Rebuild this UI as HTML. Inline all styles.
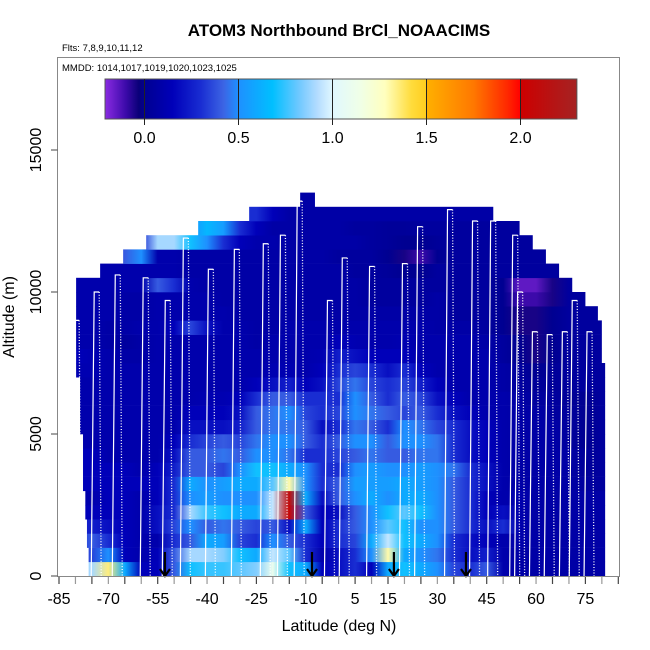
<!DOCTYPE html>
<html><head><meta charset="utf-8"><style>
body{margin:0;background:#fff;}
svg{display:block;font-family:"Liberation Sans",sans-serif;}
</style></head><body>
<svg id="chart" width="650" height="650" viewBox="0 0 650 650">
<defs id="defs"></defs>
<text x="339" y="36" text-anchor="middle" font-size="17" font-weight="bold">ATOM3 Northbound BrCl_NOAACIMS</text>
<text x="62" y="51" font-size="9.5">Flts: 7,8,9,10,11,12</text>
<g id="heat"></g>
<g id="tracks"></g>
<g id="arrows"></g>
<rect x="57.5" y="57.5" width="562" height="519" fill="none" stroke="#888" stroke-width="1"/>
<text x="62" y="71" font-size="9.5">MMDD: 1014,1017,1019,1020,1023,1025</text>
<g id="cbar"></g>
<g id="xaxis"></g>
<g id="yaxis"></g>
<text x="339" y="631" text-anchor="middle" font-size="16">Latitude (deg N)</text>
<text transform="translate(14,317) rotate(-90)" text-anchor="middle" font-size="16">Altitude (m)</text>
</svg>
<script>
const latNodes=[-80,-75,-70,-65,-60,-55,-50,-45,-40,-35,-30,-25,-20,-15,-10,-5,0,5,10,15,20,25,30,35,40,45,50,55,60,65,70,75,80];
const rowAltStart=[0,500,1000,1500,2000,2500,3000,3500,4000,4500,5000,5500,6000,6500,7000,7500,8000,8500,9000,9500,10000,10500,11000,11500,12000,12500,13000];
const rowLeft=[-76,-76,-76.5,-76.5,-77,-77,-77.7,-77.7,-77.7,-77.7,-78.6,-78.6,-78.6,-78.6,-79.8,-79.8,-79.8,-79.8,-79.8,-79.8,-79.8,-72.5,-65.5,-58.5,-42.7,-27.2,-11.7];
const rowRight=[81,81,81,81,81,81,81,81,81,81,81,81,81,81,81,80,80,80,78.8,75,71,67,63,59,55,47,-7.2];
const v0=[0.9,0.9,1.35,0.6,0.15,0.15,0.4,0.7,0.75,0.75,0.8,0.85,1.1,0.7,0.6,0.15,0.2,0.3,0.15,0.6,0.7,0.6,0.5,0.35,0.3,0.4,0.1,0.08,0.08,0.08,0.08,0.08,0.08];
const v1=[0.4,0.35,0.5,0.15,0.1,0.15,0.4,0.9,0.9,0.85,0.7,0.6,0.95,0.8,0.3,0.1,0.2,0.3,0.5,1.3,0.6,0.5,0.45,0.3,0.2,0.25,0.1,0.08,0.08,0.08,0.08,0.08,0.08];
const v2=[0.3,0.4,0.3,0.15,0.1,0.1,0.3,0.4,0.6,0.55,0.35,0.3,0.5,0.4,0.3,0.15,0.3,0.35,0.6,0.95,0.7,0.6,0.5,0.3,0.2,0.15,0.1,0.1,0.08,0.08,0.08,0.08,0.08];
const v3=[0.25,0.25,0.2,0.15,0.1,0.2,0.35,0.5,0.4,0.45,0.4,0.35,0.4,0.2,0.6,0.15,0.3,0.4,0.5,0.8,0.7,0.5,0.5,0.4,0.3,0.2,0.3,0.1,0.08,0.08,0.08,0.08,0.08];
const v4=[0.15,0.15,0.15,0.15,0.1,0.2,0.3,0.9,0.75,0.7,0.6,0.6,0.95,2.05,0.4,0.15,0.2,0.4,0.5,0.7,0.8,0.7,0.5,0.4,0.3,0.15,0.2,0.1,0.08,0.08,0.08,0.08,0.08];
const v5=[0.1,0.1,0.15,0.15,0.1,0.15,0.3,0.5,0.55,0.5,0.5,0.5,0.95,2.1,0.6,0.2,0.4,0.5,0.6,0.5,0.6,0.6,0.5,0.4,0.3,0.15,0.1,0.1,0.08,0.08,0.08,0.08,0.08];
const v6=[0.15,0.15,0.15,0.15,0.15,0.15,0.3,0.6,0.5,0.55,0.6,0.6,0.8,1.3,0.5,0.3,0.4,0.55,0.55,0.55,0.6,0.55,0.5,0.4,0.3,0.2,0.1,0.08,0.08,0.08,0.08,0.05,0.05];
const v7=[0.15,0.15,0.15,0.15,0.1,0.15,0.25,0.4,0.4,0.35,0.5,0.7,0.7,0.6,0.5,0.3,0.3,0.5,0.55,0.5,0.5,0.55,0.5,0.45,0.3,0.2,0.1,0.08,0.08,0.08,0.08,0.03,0.05];
const v8=[0.15,0.15,0.1,0.1,0.1,0.1,0.2,0.4,0.4,0.45,0.4,0.5,0.5,0.45,0.3,0.3,0.35,0.4,0.45,0.4,0.4,0.45,0.45,0.3,0.2,0.15,0.1,0.08,0.08,0.08,0.08,0.03,0.05];
const v9=[0.1,0.1,0.1,0.1,0.1,0.1,0.15,0.3,0.35,0.4,0.35,0.45,0.5,0.5,0.4,0.3,0.4,0.5,0.5,0.4,0.5,0.5,0.45,0.3,0.2,0.15,0.1,0.08,0.08,0.08,0.05,0.0,0.05];
const v10=[0.1,0.1,0.1,0.1,0.1,0.1,0.1,0.2,0.2,0.2,0.25,0.4,0.45,0.45,0.4,0.2,0.3,0.45,0.4,0.3,0.5,0.45,0.35,0.3,0.2,0.15,0.1,0.08,0.08,0.08,0.05,0.0,0.05];
const v11=[0.1,0.1,0.1,0.1,0.1,0.1,0.1,0.15,0.15,0.15,0.2,0.4,0.45,0.5,0.35,0.3,0.35,0.5,0.45,0.4,0.35,0.4,0.3,0.2,0.15,0.1,0.1,0.08,0.08,0.05,0.05,0.0,0.05];
const v12=[0.1,0.1,0.1,0.1,0.1,0.1,0.1,0.1,0.12,0.12,0.15,0.3,0.4,0.4,0.3,0.3,0.3,0.5,0.4,0.3,0.4,0.35,0.2,0.15,0.1,0.1,0.1,0.08,0.05,0.05,0.03,0.0,0.05];
const v13=[0.1,0.1,0.1,0.1,0.1,0.1,0.1,0.1,0.1,0.1,0.1,0.15,0.2,0.25,0.15,0.2,0.35,0.45,0.35,0.3,0.35,0.25,0.15,0.1,0.1,0.1,0.08,0.05,0.03,0.03,0.05,0.05,0.05];
const v14=[0.12,0.12,0.1,0.1,0.1,0.1,0.1,0.1,0.1,0.1,0.1,0.1,0.12,0.12,0.1,0.15,0.3,0.35,0.3,0.2,0.3,0.15,0.1,0.1,0.1,0.1,0.08,0.05,0.0,0.03,0.05,0.05,0.05];
const v15=[0.15,0.12,0.1,0.08,0.08,0.1,0.1,0.1,0.1,0.1,0.1,0.1,0.1,0.1,0.1,0.12,0.25,0.2,0.15,0.15,0.15,0.1,0.1,0.1,0.1,0.1,0.05,0.0,-0.05,0.0,0.05,0.05,0.05];
const v16=[0.1,0.1,0.08,0.05,0.08,0.1,0.1,0.1,0.1,0.1,0.1,0.08,0.1,0.1,0.1,0.1,0.15,0.12,0.1,0.1,0.12,0.1,0.1,0.1,0.1,0.08,0.05,0.0,-0.05,0.0,0.05,0.05,0.05];
const v17=[0.1,0.1,0.08,0.08,0.1,0.1,0.15,0.35,0.2,0.1,0.1,0.08,0.08,0.1,0.1,0.1,0.1,0.1,0.1,0.1,0.1,0.1,0.08,0.08,0.08,0.05,0.0,-0.05,-0.05,0.0,0.05,0.05,0.05];
const v18=[0.1,0.1,0.1,0.08,0.08,0.1,0.1,0.1,0.1,0.1,0.08,0.08,0.08,0.08,0.08,0.08,0.08,0.08,0.08,0.08,0.08,0.08,0.08,0.05,0.05,0.05,0.0,-0.05,-0.05,0.0,0.05,0.05,0.05];
const v19=[0.1,0.1,0.1,0.08,0.08,0.1,0.1,0.1,0.1,0.08,0.08,0.08,0.08,0.08,0.08,0.08,0.08,0.08,0.05,0.05,0.05,0.05,0.08,0.05,0.05,0.05,0.0,-0.1,-0.1,-0.05,0.05,0.05,0.05];
const v20=[0.1,0.1,0.1,0.1,0.1,0.4,0.3,0.1,0.08,0.08,0.08,0.08,0.08,0.08,0.08,0.08,0.08,0.08,0.05,0.05,0.05,0.05,0.05,0.05,0.05,0.05,0.0,-0.15,-0.15,-0.05,0.05,0.05,0.05];
const v21=[0.1,0.1,0.1,0.1,0.1,0.1,0.1,0.08,0.08,0.08,0.08,0.08,0.08,0.08,0.08,0.08,0.08,0.05,0.05,0.03,0.0,0.0,0.05,0.05,0.05,0.05,0.05,0.05,0.05,0.05,0.05,0.05,0.05];
const v22=[0.1,0.1,0.2,0.4,0.5,0.1,0.1,0.08,0.08,0.08,0.08,0.08,0.08,0.08,0.08,0.08,0.05,0.05,0.05,0.0,-0.05,-0.1,0.0,0.05,0.05,0.05,0.05,0.05,0.05,0.05,0.05,0.05,0.05];
const v23=[0.1,0.1,0.1,0.1,0.3,0.9,0.9,0.7,0.5,0.3,0.15,0.1,0.1,0.08,0.08,0.08,0.08,0.08,0.05,0.03,0.0,0.0,0.03,0.05,0.05,0.05,0.05,0.05,0.05,0.05,0.05,0.05,0.05];
const v24=[0.1,0.1,0.1,0.1,0.1,0.1,0.1,0.5,0.65,0.55,0.3,0.15,0.08,0.08,0.08,0.08,0.08,0.05,0.05,0.03,0.03,0.05,0.05,0.05,0.05,0.05,0.05,0.05,0.05,0.05,0.05,0.05,0.05];
const v25=[0.1,0.1,0.1,0.1,0.1,0.1,0.1,0.1,0.1,0.1,0.3,0.3,0.15,0.08,0.08,0.08,0.08,0.08,0.08,0.08,0.08,0.08,0.08,0.08,0.08,0.08,0.08,0.08,0.08,0.08,0.08,0.08,0.08];
const v26=[0.1,0.1,0.1,0.1,0.1,0.1,0.1,0.1,0.1,0.1,0.1,0.1,0.1,0.08,0.08,0.08,0.08,0.08,0.08,0.08,0.08,0.08,0.08,0.08,0.08,0.08,0.08,0.08,0.08,0.08,0.08,0.08,0.08];
const rowValues=[v0,v1,v2,v3,v4,v5,v6,v7,v8,v9,v10,v11,v12,v13,v14,v15,v16,v17,v18,v19,v20,v21,v22,v23,v24,v25,v26];
const profileLats=[-80.4,-74.3,-67.9,-59.4,-52.7,-47.2,-39.6,-31.7,-22.9,-17.7,-12.6,-3.4,1.1,9.4,19.4,24,33.1,40.7,46.2,52.9,54.4,58.9,63.4,68,71,75.5];
const profileTops=[9000,10000,10600,10500,9700,11900,10800,11500,11700,12000,13200,9700,11200,10900,11000,12300,12900,12500,12500,12000,10000,8600,8500,8600,9700,8600];
const arrowLats=[-52.8,-8.1,16.8,38.7];
const xTicks=[-85,-80,-75,-70,-65,-60,-55,-50,-45,-40,-35,-30,-25,-20,-15,-10,-5,0,5,10,15,20,25,30,35,40,45,50,55,60,65,70,75,80,85];
const xLabels=[-85,-70,-55,-40,-25,-10,5,15,30,45,60,75];
const yTicks=[0,5000,10000,15000];
const cbarTicks=[0.0,0.5,1.0,1.5,2.0];

const NS="http://www.w3.org/2000/svg";
function X(lat){return 59+(lat+85)*3.29;}
function Y(alt){return 576-alt*0.0284;}
function CB(v){return 144.5+v*188;}
const cstops=[[-0.21,[138,43,226]],[-0.1,[60,10,170]],[-0.03,[10,0,120]],[0.0,[0,0,145]],[0.15,[0,0,185]],[0.3,[25,45,210]],[0.42,[60,100,228]],[0.5,[30,144,255]],[0.68,[0,191,255]],[0.82,[110,200,255]],[0.92,[180,220,255]],[1.0,[224,248,255]],[1.15,[240,255,230]],[1.28,[255,255,190]],[1.42,[255,220,60]],[1.4999,[255,205,30]],[1.5,[255,176,0]],[1.75,[255,120,0]],[1.93,[255,40,0]],[1.9999,[255,0,0]],[2.0,[205,0,0]],[2.3,[165,35,35]]];
function col(v){
  if(v<=cstops[0][0])return rgb(cstops[0][1]);
  for(let i=1;i<cstops.length;i++){
    if(v<=cstops[i][0]){const a=cstops[i-1],b=cstops[i];const t=(v-a[0])/(b[0]-a[0]);
      return rgb(a[1].map((c,k)=>c+(b[1][k]-c)*t));}
  }
  return rgb(cstops[cstops.length-1][1]);
}
function rgb(a){return "rgb("+a.map(c=>Math.round(c)).join(",")+")";}
function mk(tag,attrs,parent){const e=document.createElementNS(NS,tag);for(const k in attrs)e.setAttribute(k,attrs[k]);parent.appendChild(e);return e;}

const defs=document.getElementById('defs');
const heat=document.getElementById('heat');
rowValues.forEach((vals,r)=>{
  const g=mk('linearGradient',{id:'rg'+r,gradientUnits:'userSpaceOnUse',x1:X(latNodes[0]),x2:X(latNodes[latNodes.length-1]),y1:0,y2:0},defs);
  vals.forEach((v,i)=>{mk('stop',{offset:(i/(latNodes.length-1)).toFixed(4),'stop-color':col(v)},g);});
  const x0=X(rowLeft[r]),x1=X(rowRight[r]);
  const yTop=Y(rowAltStart[r]+500),yBot=Y(rowAltStart[r]);
  const rc=mk('rect',{x:x0,y:yTop,width:x1-x0,height:yBot-yTop+0.3,fill:'url(#rg'+r+')'},heat);
  
  
});

const tracks=document.getElementById('tracks');
profileLats.forEach((lat,i)=>{
  const x=X(lat),yt=Y(profileTops[i]);
  const p=mk('polyline',{points:(x-3)+","+Y(0)+" "+x+","+yt+" "+(x+5)+","+yt,fill:'none',stroke:'#fff','stroke-width':1.2},tracks);
  
  
  const d=mk('line',{x1:x+5,y1:yt,x2:x+7,y2:Y(0),stroke:'#fff','stroke-width':1.3,'stroke-dasharray':'1 1.8'},tracks);
  
  
});

const arrows=document.getElementById('arrows');
arrowLats.forEach(lat=>{
  const x=X(lat);
  const a=mk('path',{d:"M"+x+",552 L"+x+",576 M"+(x-5)+",569 L"+x+",576 L"+(x+5)+",569",stroke:'#000','stroke-width':2.2,fill:'none'},arrows);
  
  
});

const cbar=document.getElementById('cbar');
const cg=mk('linearGradient',{id:'cbg',gradientUnits:'userSpaceOnUse',x1:CB(-0.21),x2:CB(2.3),y1:0,y2:0},defs);
for(let i=0;i<cstops.length;i++){mk('stop',{offset:((cstops[i][0]+0.21)/2.51).toFixed(4),'stop-color':rgb(cstops[i][1])},cg);}
const cr=mk('rect',{x:CB(-0.21),y:79,width:CB(2.3)-CB(-0.21),height:40,fill:'url(#cbg)',stroke:'#555','stroke-width':1},cbar);


cbarTicks.forEach(v=>{
  const l=mk('line',{x1:CB(v),x2:CB(v),y1:79,y2:125,stroke:'#222','stroke-width':1},cbar);
  
  
  const t=mk('text',{x:CB(v),y:143,'text-anchor':'middle','font-size':16},cbar);
  t.textContent=v.toFixed(1);
  
  
});

const xa=document.getElementById('xaxis');
xTicks.forEach((v,i)=>{
  const l=mk('line',{x1:X(v),x2:X(v),y1:577,y2:584,stroke:i%2?'#999':'#444','stroke-width':1.2},xa);
  
  
});
xLabels.forEach(v=>{
  const t=mk('text',{x:X(v),y:604,'text-anchor':'middle','font-size':16},xa);
  t.textContent=String(v);
  
  
});
const ya=document.getElementById('yaxis');
yTicks.forEach(v=>{
  const l=mk('line',{x1:51,x2:57.5,y1:Y(v),y2:Y(v),stroke:'#444','stroke-width':1},ya);
  
  
  const t=mk('text',{transform:'translate(41,'+Y(v)+') rotate(-90)','text-anchor':'middle','font-size':16},ya);
  t.textContent=String(v);
  
  
});
</script>
</body></html>
